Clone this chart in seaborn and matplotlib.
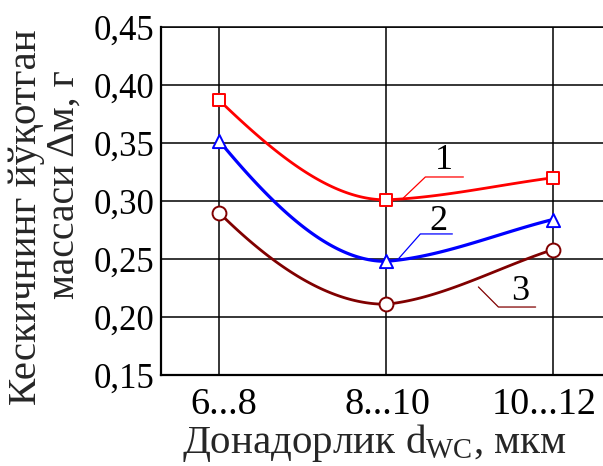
import numpy as np
import matplotlib
matplotlib.use("Agg")
import matplotlib.pyplot as plt
import matplotlib.transforms as mtransforms
import seaborn as sns

# ---- data ----
categories = ["6...8", "8...10", "10...12"]
series_1 = [0.387, 0.301, 0.320]   # red, squares
series_2 = [0.352, 0.248, 0.284]   # blue, triangles
series_3 = [0.290, 0.211, 0.258]   # dark red, circles
y_ticks = [0.15, 0.20, 0.25, 0.30, 0.35, 0.40, 0.45]
y_tick_labels = ["0,15", "0,20", "0,25", "0,30", "0,35", "0,40", "0,45"]
curve_labels = ["1", "2", "3"]

sns.set_style("white")
plt.rcParams["font.family"] = ["Liberation Serif", "DejaVu Serif"]
plt.rcParams["mathtext.fontset"] = "custom"
plt.rcParams["mathtext.rm"] = "Liberation Serif"
plt.rcParams["mathtext.it"] = "Liberation Serif:italic"

W, H = 603, 466
fig = plt.figure(figsize=(W / 100, H / 100), dpi=100)
ax = fig.add_axes([161 / W, (H - 375) / H, (W - 161) / W, (375 - 27) / H])

x = np.arange(len(categories))


def smooth(yv):
    """Cubic Hermite curve through the points (shape preserving)."""
    yv = np.asarray(yv, float)
    d = np.diff(yv)
    m0 = (3 * d[0] - d[1]) / 2
    if np.sign(m0) != np.sign(d[0]):
        m0 = 0.0
    elif np.sign(d[0]) != np.sign(d[1]) and abs(m0) > 3 * abs(d[0]):
        m0 = 3 * d[0]
    tang = [(m0, 0.0), (0.3 * d[1], d[1])]
    xs, ys = [], []
    for i in range(len(yv) - 1):
        t = np.linspace(0, 1, 60)
        h00 = 2 * t**3 - 3 * t**2 + 1
        h10 = t**3 - 2 * t**2 + t
        h01 = -2 * t**3 + 3 * t**2
        h11 = t**3 - t**2
        ma, mb = tang[i]
        xs.append(x[i] + t)
        ys.append(h00 * yv[i] + h10 * ma + h01 * yv[i + 1] + h11 * mb)
    return np.concatenate(xs), np.concatenate(ys)


styles = [
    (series_1, "#ff0000", "s", 2.0, 80),
    (series_2, "#0000ff", "^", 2.3, 90),
    (series_3, "#800000", "o", 2.0, 100),
]
for yv, col, mk, lw, ms in styles:
    cx, cy = smooth(yv)
    sns.lineplot(x=cx, y=cy, ax=ax, color=col, lw=lw, sort=False,
                 estimator=None, zorder=3)
    sns.scatterplot(x=x, y=yv, ax=ax, marker=mk, s=ms, facecolor="white",
                    edgecolor=col, linewidth=1.4, zorder=4)

ax.set_xlim(-0.348, 2.302)
ax.set_ylim(0.15, 0.45)
ax.set_xticks(x)
ax.set_xticklabels(categories, fontsize=27.5)
ax.set_yticks(y_ticks)
ax.set_yticklabels(y_tick_labels, fontsize=25)
ax.tick_params(axis="both", length=0, colors="black")
ax.tick_params(axis="x", pad=9)
ax.tick_params(axis="y", pad=5)
for lbl, dx in zip(ax.get_xticklabels(), [5, 2, -9]):
    lbl.set_transform(lbl.get_transform() +
                      mtransforms.ScaledTranslation(dx / 100, 0, fig.dpi_scale_trans))
ax.grid(True, color="black", lw=1.1, zorder=1)
ax.set_axisbelow(True)
for s in ["left", "bottom"]:
    ax.spines[s].set_color("black")
    ax.spines[s].set_linewidth(1.6)
ax.spines["top"].set_color("black")
ax.spines["top"].set_linewidth(1.1)
ax.spines["right"].set_visible(False)
ax.set_xlabel("")
ax.set_ylabel("")

# curve number labels with leader lines (annotation layout)
leaders = [
    ([1.105, 1.237, 1.465], [0.3026, 0.3207, 0.3207], (1.345, 0.335), "#ff0000"),
    ([1.069, 1.207, 1.399], [0.2491, 0.2716, 0.2716], (1.315, 0.2823), "#0000ff"),
    ([1.555, 1.675, 1.898], [0.2259, 0.2086, 0.2086], (1.808, 0.2224), "#800000"),
]
for (lx, ly, (tx, ty), col), lab in zip(leaders, curve_labels):
    ax.plot(lx, ly, color=col, lw=0.9, zorder=3)
    ax.text(tx, ty, lab, fontsize=26, ha="center", va="center", color="black", zorder=5)

fig.text(374 / W, 13 / H, r"Донадорлик d$_{\mathrm{WC}}$, мкм", fontsize=29.5,
         ha="center", va="baseline")
fig.text(27 / W, 1 - 217 / H, "Кескичнинг йўқотган", fontsize=29.5, rotation=90,
         ha="center", va="center")
fig.text(64 / W, 1 - 185 / H, "массаси Δм, г", fontsize=28.5, rotation=90,
         ha="center", va="center")

fig.savefig("out.png", dpi=100)
